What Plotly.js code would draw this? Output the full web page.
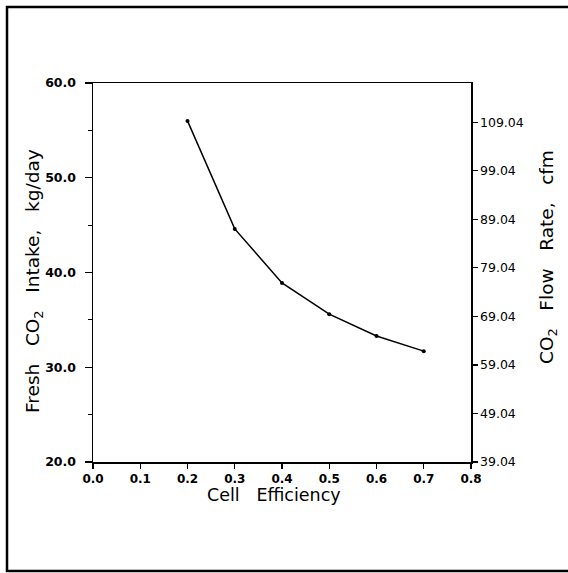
<!DOCTYPE html>
<html>
<head>
<meta charset="utf-8">
<script src="https://cdn.plot.ly/plotly-3.0.1.min.js"></script>
<style>
html,body{margin:0;padding:0;background:#fff;}
#chart{width:568px;height:573px;}
</style>
</head>
<body>
<div id="chart"></div>
<script>
// Data
const cellEfficiency = [0.2, 0.3, 0.4, 0.5, 0.6, 0.7];
const freshCO2Intake = [56.0, 44.6, 38.9, 35.6, 33.3, 31.7];   // kg/day
const leftTickVals = [20, 30, 40, 50, 60];
const rightTickVals = [39.04, 49.04, 59.04, 69.04, 79.04, 89.04, 99.04, 109.04];
const rightTickText = ["39.04", "49.04", "59.04", "69.04", "79.04", "89.04", "99.04", "109.04"];
const rightRange = [39.04, 117.12]; // cfm corresponding to 20..60 kg/day

const NB = "\u00A0";
const SP = NB + NB + NB;
const trace = {
  x: cellEfficiency,
  y: freshCO2Intake,
  type: "scatter",
  mode: "lines+markers",
  line: {color: "#000", width: 1.5},
  marker: {color: "#000", size: 4},
  showlegend: false,
  hoverinfo: "skip"
};
// empty trace so that the secondary (cfm) axis is drawn
const axisTrace = {
  x: [], y: [], yaxis: "y2", type: "scatter", mode: "lines",
  showlegend: false, hoverinfo: "skip"
};

const tickFontBold = {family: "DejaVu Sans", size: 12.5, color: "#000", weight: "bold"};
const titleFont = {family: "DejaVu Sans", size: 17.5, color: "#000"};
const yTitleFont = {family: "DejaVu Sans", size: 18.5, color: "#000"};
const layout = {
  width: 568, height: 573,
  margin: {l: 93, r: 97, t: 83, b: 111, pad: 0},
  paper_bgcolor: "#fff", plot_bgcolor: "#fff",
  showlegend: false,
  xaxis: {
    range: [0, 0.8], dtick: 0.1, tick0: 0, tickformat: ".1f",
    showgrid: false, zeroline: false,
    showline: true, linecolor: "#000", linewidth: 1.5, mirror: true,
    ticks: "outside", ticklen: 5, tickwidth: 1.2, tickcolor: "#000",
    tickfont: {family: "DejaVu Sans", size: 12, color: "#000", weight: "bold"}
  },
  yaxis: {
    range: [20, 60], tickvals: leftTickVals, tickformat: ".1f",
    showgrid: false, zeroline: false,
    showline: true, linecolor: "#000", linewidth: 1.5,
    ticks: "outside", ticklen: 7, tickwidth: 1.2, tickcolor: "#000",
    ticklabelstandoff: 6,
    minor: {dtick: 5, tick0: 0, ticks: "outside", ticklen: 4, tickwidth: 1, tickcolor: "#000", showgrid: false},
    tickfont: tickFontBold
  },
  yaxis2: {
    overlaying: "y", side: "right", range: rightRange,
    tickvals: rightTickVals, ticktext: rightTickText,
    showgrid: false, zeroline: false,
    showline: true, linecolor: "#000", linewidth: 1.5,
    ticks: "outside", ticklen: 5, tickwidth: 1.2, tickcolor: "#000",
    tickfont: {family: "DejaVu Sans", size: 12.5, color: "#000"}
  },
  annotations: [
    {text: "Cell" + SP + "Efficiency", xref: "paper", yref: "paper",
     x: (274 - 93) / 378, y: (462 - 495) / 379, xanchor: "center", yanchor: "middle",
     showarrow: false, font: titleFont},
    {text: "Fresh" + SP + "CO<sub>2</sub>" + SP + "Intake," + SP + "kg/day", xref: "paper", yref: "paper",
     x: (34 - 93) / 378, y: (462 - 281) / 379, xanchor: "center", yanchor: "middle",
     textangle: -90, showarrow: false, font: yTitleFont},
    {text: "CO<sub>2</sub>" + SP + "Flow" + SP + "Rate," + SP + "cfm", xref: "paper", yref: "paper",
     x: (548 - 93) / 378, y: (462 - 257) / 379, xanchor: "center", yanchor: "middle",
     textangle: -90, showarrow: false, font: yTitleFont}
  ],
  shapes: [{
    type: "rect", xref: "paper", yref: "paper",
    x0: -0.2275, x1: 1.45, y0: -0.2876, y1: 1.2005,
    line: {color: "#000", width: 2.5}, fillcolor: "rgba(0,0,0,0)", layer: "below"
  }]
};

Plotly.newPlot("chart", [trace, axisTrace], layout, {staticPlot: true, displayModeBar: false});
</script>
</body>
</html>
